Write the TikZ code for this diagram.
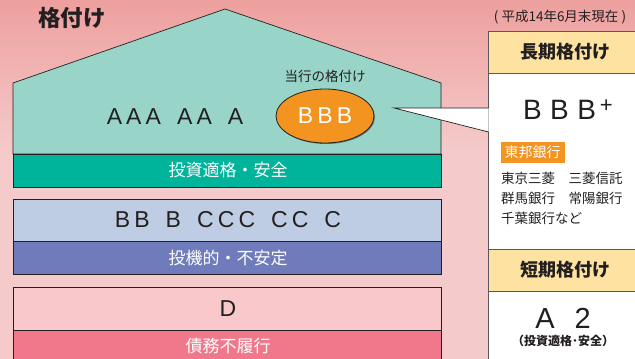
\documentclass[tikz,border=0pt]{standalone}
\usepackage{fontspec}
\setmainfont{Noto Sans CJK JP}
\newfontfamily\gradefont[LetterSpace=18]{Liberation Sans}
\newfontfamily\widefont[LetterSpace=30]{Liberation Sans}
\usetikzlibrary{positioning, shapes.geometric, shadows}
\definecolor{bgpink}{HTML}{F5CACA}
\definecolor{bgred}{HTML}{EDA09E}
\definecolor{ink}{HTML}{231F20}
\definecolor{safelight}{HTML}{98D4C8}
\definecolor{safeband}{HTML}{00B39B}
\definecolor{speclight}{HTML}{BECDE3}
\definecolor{specband}{HTML}{6F7BBA}
\definecolor{defaultlight}{HTML}{F9C8CB}
\definecolor{defaultband}{HTML}{F1788B}
\definecolor{rateorange}{HTML}{F39420}
\definecolor{headyellow}{HTML}{FDE2A2}
\def\tierL{13}
\def\tierR{441}
\def\gap{\hspace{16pt}}
\tikzset{tier/.style={draw=ink, line width=0.7pt}}
\tikzset{grade/.style={text=ink, font=\gradefont\fontsize{23}{23}\selectfont}}
\tikzset{bandtext/.style={text=white, font=\fontsize{17}{17}\selectfont}}
\tikzset{head/.style={text=ink, font=\bfseries\fontsize{18}{18}\selectfont}}
\tikzset{bank/.style={text=ink, anchor=west, inner sep=0pt, font=\fontsize{13.5}{13.5}\selectfont}}

\begin{document}
\begin{tikzpicture}[x=1pt, y=-1pt]
  % Fond
  \fill[bgpink] (0,0) rectangle (635,359);
  \shade[top color=bgred, bottom color=bgpink] (0,0) rectangle (635,150);
  \useasboundingbox (0,0) rectangle (635,359);
  \node[text=ink, font=\bfseries\fontsize{22.5}{22.5}\selectfont] (title) at (72,18) {格付け};

  % Maison : investissement
  \filldraw[tier, fill=safelight] (\tierL,154) -- (\tierL,83) -- (225,9)
    -- (\tierR,83) -- (\tierR,154) -- cycle;
  \filldraw[tier, fill=safeband] (\tierL,154) rectangle (\tierR,187);
  \node[grade] (aaa) at (175,117) {AAA\gap AA\gap A};
  \node[bandtext] (safe) at (228,170) {投資適格・安全};

  % Notre note
  \node[ellipse, fill=rateorange, draw=ink, line width=0.8pt,
    drop shadow={shadow xshift=1pt, shadow yshift=-1pt, fill=ink},
    minimum width=98pt, minimum height=54pt, inner sep=0pt,
    text=white, font=\gradefont\fontsize{23}{23}\selectfont] (ours) at (325,116) {BBB};
  \node[text=ink, font=\fontsize{13.5}{13.5}\selectfont, above=2pt of ours] (ourslabel) {当行の格付け};

  % Speculatif
  \filldraw[tier, fill=speclight] (\tierL,199) rectangle (\tierR,241);
  \filldraw[tier, fill=specband] (\tierL,241) rectangle (\tierR,274);
  \node[grade] (bb) at (228,220) {BB\gap B\gap CCC\gap CC\gap C};
  \node[bandtext] (spec) at (228,258) {投機的・不安定};

  % Defaut
  \filldraw[tier, fill=defaultlight] (\tierL,287) rectangle (\tierR,330);
  \filldraw[tier, fill=defaultband] (\tierL,330) rectangle (\tierR,370);
  \node[grade] (d) at (228,309) {D};
  \node[bandtext] (default) at (228,346) {債務不履行};

  % Encadre de droite
  \node[text=ink, font=\fontsize{13.5}{13.5}\selectfont] (date) at (560,17) {( 平成14年6月末現在 )};
  \begin{scope}
    \clip (0,0) rectangle (635,359);
    \filldraw[draw=ink!75, line width=0.8pt, fill=white] (488,31) rectangle (650,380);
    \filldraw[draw=ink!75, line width=0.8pt, fill=headyellow] (488,31) rectangle (650,73);
    \filldraw[draw=ink!75, line width=0.8pt, fill=headyellow] (488,249) rectangle (650,291);
  \end{scope}
  \coordinate (tip) at (394,108);
  \coordinate (top) at (488.6,108);
  \coordinate (bot) at (488.6,132);
  \fill[white] (tip) -- (top) -- (bot) -- cycle;
  \draw[ink, line width=0.7pt] (top) -- (tip) -- (bot);

  \node[head] (long) at (565,52) {長期格付け};
  \node[text=ink, font=\widefont\fontsize{28}{28}\selectfont] (bbbplus) at (568,110)
    {BBB\hspace{4pt}\raisebox{7pt}{\fontsize{22}{22}\selectfont +}};
  \node[fill=rateorange, text=white, inner sep=0pt, minimum width=64pt, minimum height=21pt,
    font=\fontsize{14}{14}\selectfont] (toho) at (532.5,152) {東邦銀行};
  \node[bank] (line1) at (501,178) {東京三菱　三菱信託};
  \node[bank] (line2) at (501,198) {群馬銀行　常陽銀行};
  \node[bank] (line3) at (501,218) {千葉銀行など};

  \node[head] (short) at (565,270) {短期格付け};
  \node[text=ink, font=\gradefont\fontsize{29}{29}\selectfont] (a2) at (563,318) {A\hspace{20pt}2};
  \node[text=ink, font=\bfseries\fontsize{12}{12}\selectfont] (a2note) at (563,341) {（投資適格･安全）};
\end{tikzpicture}
\end{document}
